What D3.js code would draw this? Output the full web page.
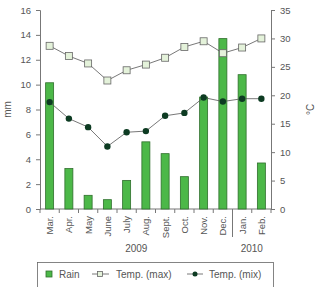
<!DOCTYPE html>
<html>
<head>
<meta charset="utf-8">
<script src="https://cdn.jsdelivr.net/npm/d3@7"></script>
<style>
  body { margin: 0; background: #fff; }
  text { font-family: "Liberation Sans", Arial, sans-serif; fill: #555; }
</style>
</head>
<body>
<div id="chart"></div>
<script>
const months = ["Mar.", "Apr.", "May", "June", "July", "Aug.", "Sept.", "Oct.", "Nov.", "Dec.", "Jan.", "Feb."];
const rain = [10.15, 3.25, 1.1, 0.75, 2.3, 5.4, 4.45, 2.6, 9.0, 13.7, 10.8, 3.7];
const tempMax = [28.7, 26.9, 25.6, 22.6, 24.4, 25.4, 26.6, 28.5, 29.5, 27.4, 28.4, 30.0];
const tempMin = [18.8, 15.9, 14.4, 11.0, 13.5, 13.7, 16.4, 16.9, 19.6, 18.9, 19.4, 19.4];
const years = [{ label: "2009", from: 0, to: 9 }, { label: "2010", from: 10, to: 11 }];

const width = 320, height = 287;
const margin = { left: 40, right: 49, top: 10, bottom: 78 };
const bottomY = height - margin.bottom;

const svg = d3.select("#chart").append("svg")
  .attr("width", width).attr("height", height);

//#region scales
const x = d3.scaleBand().domain(months).range([margin.left, width - margin.right]);
const yRain = d3.scaleLinear().domain([0, 16]).range([bottomY, margin.top]);
const yTemp = d3.scaleLinear().domain([0, 35]).range([bottomY, margin.top]);
//#endregion

//#region axes
const styleAxis = g => {
  g.selectAll("path, line").attr("stroke", "#777");
  g.selectAll("text").style("font-size", "9.5px").attr("fill", "#555")
    .style("font-family", "Liberation Sans, Arial, sans-serif");
};

svg.append("g")
  .attr("transform", `translate(${margin.left},0)`)
  .call(d3.axisLeft(yRain).tickValues(d3.range(0, 17, 2)).tickSize(4).tickSizeOuter(4).tickPadding(5))
  .call(styleAxis);

svg.append("g")
  .attr("transform", `translate(${width - margin.right},0)`)
  .call(d3.axisRight(yTemp).tickValues(d3.range(0, 36, 5)).tickSize(4).tickSizeOuter(4).tickPadding(5))
  .call(styleAxis);

// x axis: ticks on band edges, labels rotated
const xg = svg.append("g").attr("transform", `translate(0,${bottomY})`);
xg.append("line").attr("x1", margin.left).attr("x2", width - margin.right)
  .attr("stroke", "#777");
xg.selectAll(".edge").data(d3.range(months.length + 1)).join("line")
  .attr("class", "edge")
  .attr("x1", i => margin.left + i * x.step())
  .attr("x2", i => margin.left + i * x.step())
  .attr("y1", 0).attr("y2", 4).attr("stroke", "#777");
xg.selectAll(".lbl").data(months).join("text")
  .attr("class", "lbl")
  .attr("transform", d => `translate(${x(d) + x.bandwidth() / 2 + 3.5},7) rotate(-90)`)
  .attr("text-anchor", "end")
  .style("font-size", "9.5px")
  .text(d => d);

// year separator
svg.append("line")
  .attr("x1", margin.left + 10 * x.step()).attr("x2", margin.left + 10 * x.step())
  .attr("y1", bottomY).attr("y2", bottomY + 28)
  .attr("stroke", "#777");

svg.selectAll(".year").data(years).join("text")
  .attr("class", "year")
  .attr("x", d => (x(months[d.from]) + x(months[d.to]) + x.bandwidth()) / 2)
  .attr("y", bottomY + 43)
  .attr("text-anchor", "middle")
  .style("font-size", "10px")
  .text(d => d.label);

svg.append("text")
  .attr("transform", `translate(11,${(bottomY + margin.top) / 2}) rotate(-90)`)
  .attr("text-anchor", "middle")
  .style("font-size", "10px")
  .text("mm");

svg.append("text")
  .attr("transform", `translate(314,${(bottomY + margin.top) / 2}) rotate(-90)`)
  .attr("text-anchor", "middle")
  .style("font-size", "10px")
  .text("°C");
//#endregion

//#region bars
const barW = 8;
svg.selectAll(".bar").data(rain).join("rect")
  .attr("class", "bar")
  .attr("x", (d, i) => x(months[i]) + x.bandwidth() / 2 - barW / 2)
  .attr("y", d => yRain(d))
  .attr("width", barW)
  .attr("height", d => bottomY - yRain(d))
  .attr("fill", "#4cb848")
  .attr("stroke", "#2f6f2c")
  .attr("stroke-width", 0.8);
//#endregion

//#region lines
const cx = i => x(months[i]) + x.bandwidth() / 2;
const line = d3.line().x((d, i) => cx(i)).y(d => yTemp(d));

svg.append("path").datum(tempMax).attr("d", line)
  .attr("fill", "none").attr("stroke", "#555").attr("stroke-width", 0.8);
svg.append("path").datum(tempMin).attr("d", line)
  .attr("fill", "none").attr("stroke", "#555").attr("stroke-width", 0.8);

svg.selectAll(".sq").data(tempMax).join("rect")
  .attr("class", "sq")
  .attr("x", (d, i) => cx(i) - 3.5).attr("y", d => yTemp(d) - 3.5)
  .attr("width", 7).attr("height", 7)
  .attr("fill", "#e4f2da").attr("stroke", "#666").attr("stroke-width", 0.8);

svg.selectAll(".dot").data(tempMin).join("circle")
  .attr("class", "dot")
  .attr("cx", (d, i) => cx(i)).attr("cy", d => yTemp(d))
  .attr("r", 3.2)
  .attr("fill", "#0d3b22");
//#endregion

//#region legend
const lg = svg.append("g");
lg.append("rect").attr("x", 37.5).attr("y", 262.5).attr("width", 236).attr("height", 30)
  .attr("fill", "#fff").attr("stroke", "#666").attr("stroke-width", 0.8);
lg.append("rect").attr("x", 46).attr("y", 271).attr("width", 6).attr("height", 6)
  .attr("fill", "#4cb848").attr("stroke", "#2f6f2c").attr("stroke-width", 0.8);
lg.append("text").attr("x", 59).attr("y", 278).style("font-size", "10px").text("Rain");
lg.append("line").attr("x1", 92).attr("x2", 109).attr("y1", 274).attr("y2", 274)
  .attr("stroke", "#555").attr("stroke-width", 0.8);
lg.append("rect").attr("x", 97.5).attr("y", 271.5).attr("width", 5).attr("height", 5)
  .attr("fill", "#e4f2da").attr("stroke", "#666").attr("stroke-width", 0.8);
lg.append("text").attr("x", 116).attr("y", 278).style("font-size", "10px").text("Temp. (max)");
lg.append("line").attr("x1", 187).attr("x2", 203).attr("y1", 274).attr("y2", 274)
  .attr("stroke", "#555").attr("stroke-width", 0.8);
lg.append("circle").attr("cx", 195).attr("cy", 274).attr("r", 2.5).attr("fill", "#0d3b22");
lg.append("text").attr("x", 209).attr("y", 278).style("font-size", "10px").text("Temp. (mix)");
//#endregion
</script>
</body>
</html>
